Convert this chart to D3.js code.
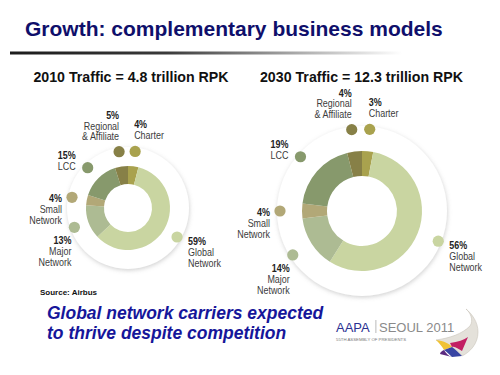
<!DOCTYPE html>
<html>
<head>
<meta charset="utf-8">
<script src="https://cdn.jsdelivr.net/npm/d3@7"></script>
<style>
  body { margin: 0; background: #fff; }
  svg { display: block; font-family: "Liberation Sans", Arial, sans-serif; }
  .lbl { font-size: 11.2px; fill: #3c3c3c; }
  .pct { font-weight: bold; fill: #222; }
</style>
</head>
<body>
<div class="chart"></div>
<script>
// segment categories, clockwise from 12 o'clock
var categories = ["Charter", "Global Network", "Major Network", "Small Network", "LCC", "Regional & Affiliate"];
var labelLines = [["Charter"], ["Global", "Network"], ["Major", "Network"], ["Small", "Network"], ["LCC"], ["Regional", "& Affiliate"]];
var share2010 = [4, 59, 13, 4, 15, 5];
var share2030 = [3, 56, 14, 4, 19, 4];
var chartTitles = ["2010 Traffic = 4.8 trillion RPK", "2030 Traffic = 12.3 trillion RPK"];

var colors = ["#a9a24e", "#c9d5a1", "#adbb93", "#b2a877", "#87996c", "#878047"];

// label placement relative to each dot: dx, dy of first line, anchor
var labelPos = {
  "Charter": {dx: -1, dy: -23, anchor: "start"},
  "Global Network": {dx: 11, dy: 8, anchor: "start"},
  "Major Network": {dx: -3, dy: 17, anchor: "end"},
  "Small Network": {dx: -10, dy: 5, anchor: "end"},
  "LCC": {dx: -12, dy: -9, anchor: "end"},
  "Regional & Affiliate": {dx: 0, dy: -33, anchor: "end"}
};
var narrow = 0.8; // squeeze labels to look like a narrow face

var svg = d3.select(".chart").append("svg")
  .attr("width", 500).attr("height", 375);

var defs = svg.append("defs");

var grad = defs.append("linearGradient").attr("id", "rule");
grad.append("stop").attr("offset", "0").attr("stop-color", "#1c1c1c");
grad.append("stop").attr("offset", "0.4").attr("stop-color", "#3a3a3a");
grad.append("stop").attr("offset", "0.75").attr("stop-color", "#b0b0b0");
grad.append("stop").attr("offset", "1").attr("stop-color", "#ffffff");

var shadow = defs.append("filter").attr("id", "halo")
  .attr("x", "-20%").attr("y", "-20%").attr("width", "140%").attr("height", "140%");
shadow.append("feDropShadow").attr("dx", 0.5).attr("dy", 1.5)
  .attr("stdDeviation", 2.2).attr("flood-color", "#9a9a9a").attr("flood-opacity", 0.45);

// header
svg.append("text")
  .attr("x", 25).attr("y", 36)
  .attr("font-size", 21).attr("font-weight", "bold")
  .attr("fill", "#0f0f6b")
  .text("Growth: complementary business models");

svg.append("rect")
  .attr("x", 10).attr("y", 51.5).attr("width", 392).attr("height", 3)
  .attr("fill", "url(#rule)");

// the two donuts
var pie = d3.pie().sort(null).value(function(d) { return d; });

var charts = [
  {values: share2010, title: chartTitles[0], cx: 128, cy: 208, inner: 24, outer: 42, halo: 61, dotR: 57, titleX: 131},
  {values: share2030, title: chartTitles[1], cx: 362, cy: 211, inner: 35, outer: 60, halo: 85, dotR: 82, titleX: 361.5}
];

charts.forEach(function(c) {
  svg.append("text")
    .attr("x", c.titleX).attr("y", 82)
    .attr("text-anchor", "middle")
    .attr("font-size", 14.2).attr("font-weight", "bold")
    .attr("fill", "#111")
    .text(c.title);

  var g = svg.append("g").attr("transform", "translate(" + c.cx + "," + c.cy + ")");

  g.append("circle").attr("r", c.halo).attr("fill", "#fff").attr("filter", "url(#halo)");

  var arc = d3.arc().innerRadius(c.inner).outerRadius(c.outer);
  var arcs = pie(c.values);

  g.selectAll("path.seg")
    .data(arcs)
    .enter().append("path")
    .attr("class", "seg")
    .attr("d", arc)
    .attr("fill", function(d, i) { return colors[i]; });

  var dotArc = d3.arc().innerRadius(c.dotR).outerRadius(c.dotR);

  var marks = g.selectAll("g.mark")
    .data(arcs)
    .enter().append("g")
    .attr("class", "mark")
    .attr("transform", function(d) { return "translate(" + dotArc.centroid(d) + ")"; });

  marks.append("circle")
    .attr("r", 5.6)
    .attr("fill", function(d, i) { return colors[i]; });

  marks.each(function(d, i) {
    var p = labelPos[categories[i]];
    var t = d3.select(this).append("text")
      .attr("class", "lbl")
      .attr("transform", "scale(" + narrow + ",1)")
      .attr("text-anchor", p.anchor);
    var lines = [d.data + "%"].concat(labelLines[i]);
    lines.forEach(function(line, k) {
      t.append("tspan")
        .attr("class", k === 0 ? "pct" : null)
        .attr("x", p.dx / narrow)
        .attr("y", p.dy + k * 10.8)
        .text(line);
    });
  });
});

// footer
svg.append("text")
  .attr("x", 40).attr("y", 295)
  .attr("font-size", 8).attr("font-weight", "bold")
  .attr("fill", "#111")
  .text("Source: Airbus");

var msg = svg.append("text")
  .attr("font-size", 17.5).attr("font-weight", "bold").attr("font-style", "italic")
  .attr("fill", "#16169a");
msg.append("tspan").attr("x", 47).attr("y", 319).text("Global network carriers expected");
msg.append("tspan").attr("x", 47).attr("y", 339).text("to thrive despite competition");

// conference logo
var logo = svg.append("g");
logo.append("text").attr("x", 336).attr("y", 332)
  .attr("font-size", 13).attr("fill", "#2b3192").text("AAPA");
logo.append("rect").attr("x", 375.5).attr("y", 320).attr("width", 0.8).attr("height", 13).attr("fill", "#aaa");
logo.append("text").attr("x", 379).attr("y", 332)
  .attr("font-size", 13).attr("fill", "#8a8a8a").text("SEOUL 2011");
logo.append("text").attr("x", 336).attr("y", 341)
  .attr("font-size", 4.3).attr("fill", "#777").text("55TH ASSEMBLY OF PRESIDENTS");
logo.append("path")
  .attr("d", "M436,340 C450,338 462,334 470,326 C474,320 470,312 466,309 C472,314 478,322 478,332 C478,344 470,352 462,356 C458,350 448,344 436,340 Z")
  .attr("fill", "#e4e1da").attr("stroke", "#c9c5bb").attr("stroke-width", 0.6);
logo.append("path").attr("d", "M436,340 C444,341 450,344 452,347 L444,350 C442,346 439,343 436,340 Z").attr("fill", "#f0c233");
logo.append("path").attr("d", "M452,347 C456,350 459,353 462,356 L452,357 C449,354 447,352 444,350 Z").attr("fill", "#3844a3");
logo.append("path").attr("d", "M450,343 C458,342 464,340 468,337 L462,351 C458,349 455,346 452,347 Z").attr("fill", "#c21f63");
logo.append("path").attr("d", "M444,350 C446,353 448,356 452,357 L440,354 C440,352 442,351 444,350 Z").attr("fill", "#5b2a7f");
</script>
</body>
</html>
